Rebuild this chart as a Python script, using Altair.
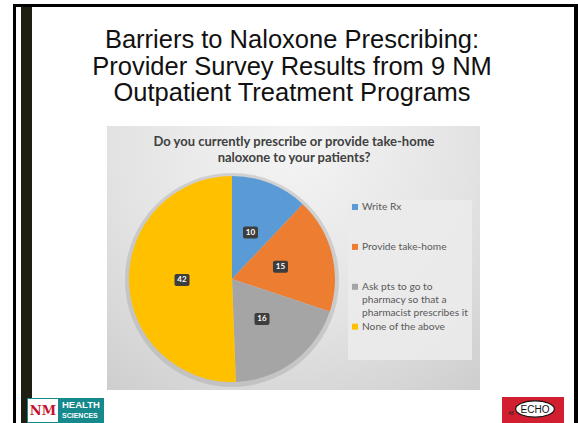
import altair as alt
import pandas as pd

# ---------------- data ----------------
categories = [
    "Write Rx",
    "Provide take-home",
    "Ask pts to go to pharmacy so that a pharmacist prescribes it",
    "None of the above",
]
counts = [10, 15, 16, 42]
colors = ["#5B9BD5", "#ED7D31", "#A5A5A5", "#FFC000"]
legend_lines = [
    ["Write Rx"],
    ["Provide take-home"],
    ["Ask pts to go to", "pharmacy so that a", "pharmacist prescribes it"],
    ["None of the above"],
]
slide_title = [
    "Barriers to Naloxone Prescribing:",
    "Provider Survey Results from 9 NM",
    "Outpatient Treatment Programs",
]
chart_title = [
    "Do you currently prescribe or provide take-home",
    "naloxone to your patients?",
]

df = pd.DataFrame({"category": categories, "count": counts, "order": list(range(len(categories)))})

W, H = 578, 423
CX, CY, R = 232, 279, 103
LR = 50  # label radius
one = pd.DataFrame({"a": [0]})


def rect(x1, x2, y1, y2, **kw):
    return alt.Chart(one).mark_rect(**kw).encode(
        x=alt.value(x1), x2=alt.value(x2), y=alt.value(y1), y2=alt.value(y2)
    )


def label(x, y, text, **kw):
    return alt.Chart(one).mark_text(text=text, **kw).encode(x=alt.value(x), y=alt.value(y))


layers = []

# slide frame
layers.append(rect(13, 16, 4, H, color="#000000"))
layers.append(rect(21, 32, 4, H, color="#1e1e12"))
layers.append(rect(13, W, 4, 7, color="#000000"))
layers.append(rect(574, W, 4, H, color="#000000"))

# slide title (one text per line)
for k, line in enumerate(slide_title):
    layers.append(label(292, 40 + 26.5 * k, line, font="Liberation Sans", fontSize=25.5,
                        color="#111111", align="center", baseline="middle"))

# chart panel with gradient
panel_fill = alt.RadialGradient(
    gradient="radial", x1=0.5, y1=0.2, r1=0.0, x2=0.5, y2=0.2, r2=0.95,
    stops=[alt.GradientStop(color="#f4f4f4", offset=0),
           alt.GradientStop(color="#e3e3e3", offset=0.5),
           alt.GradientStop(color="#c6c6c6", offset=1)],
)
layers.append(rect(107, 480, 126, 390, fill=panel_fill))

# legend box
layers.append(rect(348, 472, 200, 360, color="#ebebeb", opacity=0.9))

# chart title
layers.append(label(294, 142, chart_title, font="Lato", fontWeight="bold", fontSize=13,
                    lineHeight=16, color="#404040", align="center", baseline="middle"))

# pie shadow
layers.append(alt.Chart(one).mark_arc(outerRadius=R + 4, color="#9a9a9a", opacity=0.35, theta=0,
                                      theta2=6.2832).encode(x=alt.value(CX), y=alt.value(CY + 1)))

color_scale = alt.Scale(domain=categories, range=colors)

pie = alt.Chart(df).mark_arc(outerRadius=R).encode(
    theta=alt.Theta("count:Q", stack=True),
    order=alt.Order("order:Q"),
    color=alt.Color("category:N", scale=color_scale, legend=None),
    x=alt.value(CX), y=alt.value(CY),
)
layers.append(pie)

# data-label positions derived from the data (mid-angle of each slice)
lab = alt.Chart(df).transform_joinaggregate(
    total="sum(count)"
).transform_window(
    cum="sum(count)", sort=[alt.SortField("order")], frame=[None, 0]
).transform_calculate(
    mid="(datum.cum - datum.count/2) / datum.total * 2 * PI",
).transform_calculate(
    px=f"{CX} + {LR} * sin(datum.mid)",
    py=f"{CY} - {LR} * cos(datum.mid)",
).transform_calculate(
    bx1="datum.px - 7.5", bx2="datum.px + 7.5", by1="datum.py - 6", by2="datum.py + 6",
)

boxes = lab.mark_rect(color="#3d3d3d", cornerRadius=2).encode(
    x=alt.X("bx1:Q", scale=None), x2="bx2:Q",
    y=alt.Y("by1:Q", scale=None), y2="by2:Q",
)
layers.append(boxes)

nums = lab.mark_text(font="Lato", fontWeight="bold", fontSize=8, color="#ffffff",
                     baseline="middle", align="center").encode(
    x=alt.X("px:Q", scale=None), y=alt.Y("py:Q", scale=None), text="count:Q")
layers.append(nums)

# legend entries
LX, LY, LH = 355, 207, 13.3
slot = 0
for i, lines in enumerate(legend_lines):
    y0 = LY + slot * LH
    layers.append(rect(LX - 3, LX + 3, y0 - 3, y0 + 3, color=colors[i]))
    layers.append(label(LX + 7, y0, lines, font="Lato", fontSize=10.2, lineHeight=LH,
                        color="#595959", align="left", baseline="middle"))
    slot += 3

# UNM logo
layers.append(rect(27, 104, 398, H, color="#16898c"))
layers.append(rect(28, 58, 399, H - 1, color="#ffffff"))
layers.append(label(43, 411, "NM", font="DejaVu Serif", fontWeight="bold", fontSize=13,
                    color="#c4122f", align="center", baseline="middle"))
layers.append(label(62, 405, "HEALTH", font="Liberation Sans", fontWeight="bold", fontSize=9.5,
                    color="#ffffff", align="left", baseline="middle"))
layers.append(label(62, 416, "SCIENCES", font="Liberation Sans", fontWeight="bold", fontSize=7,
                    color="#ffffff", align="left", baseline="middle"))

# ECHO logo
layers.append(rect(502, 564, 397, H, color="#d21f2f"))
layers.append(alt.Chart(one).mark_point(
    shape="M-1,0 A1,0.42 0 1,0 1,0 A1,0.42 0 1,0 -1,0 Z", size=1500, filled=True,
    fill="#ffffff", stroke="#111111", strokeWidth=1.2, opacity=1).encode(
    x=alt.value(535), y=alt.value(409)))
layers.append(label(535, 409.5, "ECHO", font="Liberation Sans", fontSize=10,
                    color="#111111", align="center", baseline="middle"))
layers.append(label(511, 413, "48", font="Liberation Sans", fontSize=5,
                    color="#222222", align="center", baseline="middle"))

chart = alt.layer(*layers).properties(
    width=W, height=H, padding=0, autosize=alt.AutoSizeParams(type="none"),
    background="#ffffff",
).configure_view(stroke=None)

chart.save("out.html", embed_options={"renderer": "svg", "actions": False})
